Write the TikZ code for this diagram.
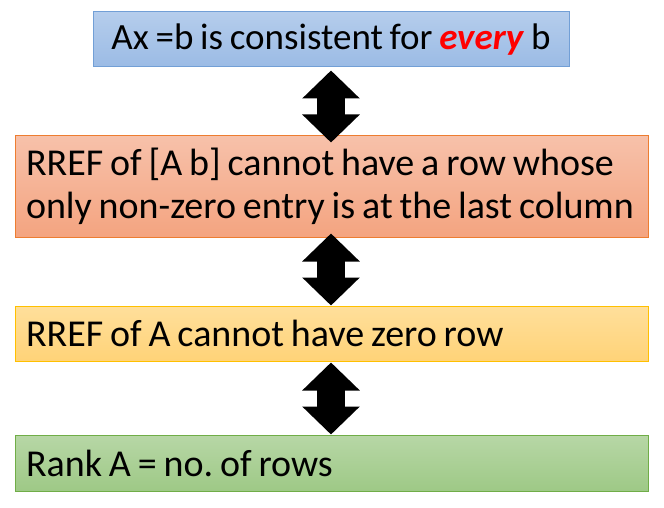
\documentclass[tikz,border=0pt]{standalone}
\usepackage{fontspec}
\setmainfont[WordSpace=0.8]{Carlito}
\usepackage{xcolor}
\usepackage{tikz}
\usetikzlibrary{arrows.meta,positioning}
\definecolor{bluetop}{RGB}{181,205,236}
\definecolor{bluebot}{RGB}{155,187,229}
\definecolor{blueln}{RGB}{114,159,214}
\definecolor{orgtop}{RGB}{247,193,170}
\definecolor{orgbot}{RGB}{244,164,128}
\definecolor{orgln}{RGB}{237,125,49}
\definecolor{yeltop}{RGB}{255,223,155}
\definecolor{yelbot}{RGB}{255,211,120}
\definecolor{yelln}{RGB}{255,192,0}
\definecolor{grntop}{RGB}{183,215,166}
\definecolor{grnbot}{RGB}{158,201,134}
\definecolor{grnln}{RGB}{112,173,71}
\definecolor{evred}{RGB}{255,0,0}
\frenchspacing

\begin{document}
\begin{tikzpicture}[
  font=\fontsize{37}{43}\selectfont,
  cond/.style={draw, line width=1pt, inner ysep=0pt, inner xsep=11pt, text width=611pt,
    font=\fontsize{38}{43}\selectfont,
    execute at begin node={\raggedright\spaceskip=0pt\xspaceskip=0pt\hyphenpenalty=10000\hfuzz=20pt}},
  eqv/.style={line width=28pt, {Triangle[width=56pt,length=28pt]}-{Triangle[width=56pt,length=28pt]}},
]
\useasboundingbox (0,0) rectangle (664pt,507pt);
\node[draw=blueln, line width=1pt, top color=bluetop, bottom color=bluebot,
  minimum width=476pt, minimum height=55pt, inner sep=0pt] (b1) at (331pt,467.5pt)
  {Ax =b is consistent for \textcolor{evred}{\textbf{\textit{every}}} b};
\node[cond, draw=orgln, top color=orgtop, bottom color=orgbot, minimum height=101pt] (b2) at (331.5pt,320.5pt)
  {RREF of [A b] cannot have a row whose\\only non-zero entry is at the last column};
\node[cond, draw=yelln, top color=yeltop, bottom color=yelbot, minimum height=55pt] (b3) at (331.5pt,173.5pt)
  {RREF of A cannot have zero row};
\node[cond, draw=grnln, top color=grntop, bottom color=grnbot, minimum height=56pt] (b4) at (331.5pt,44pt)
  {Rank A = no. of rows};
\draw[eqv] ([yshift=-3pt]b1.south) -- ([yshift=-7pt]b1.south |- b2.north);
\draw[eqv] ([yshift=4pt]b1.south |- b2.south) -- (b1.south |- b3.north);
\draw[eqv] ([yshift=-1pt]b1.south |- b3.south) -- (b1.south |- b4.north);
\end{tikzpicture}
\end{document}
